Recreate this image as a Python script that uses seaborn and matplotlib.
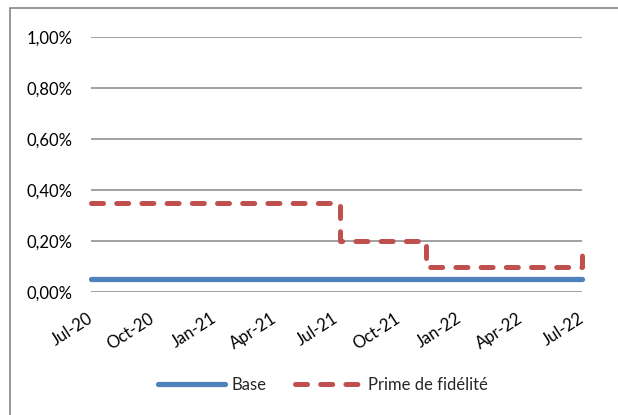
import pandas as pd
import matplotlib
matplotlib.use("Agg")
import matplotlib.pyplot as plt
import matplotlib.dates as mdates
from matplotlib.ticker import FuncFormatter
from matplotlib.patches import Rectangle
import seaborn as sns

# Series data (taux en %)
base_dates = ["2020-07-01", "2022-07-01"]
base_values = [0.05, 0.05]

prime_dates = ["2020-07-01", "2021-07-06", "2021-11-11", "2022-07-01"]
prime_values = [0.35, 0.20, 0.10, 0.15]

tick_dates = ["2020-07-01", "2020-10-01", "2021-01-01", "2021-04-01", "2021-07-01",
              "2021-10-01", "2022-01-01", "2022-04-01", "2022-07-01"]
y_ticks = [0.0, 0.2, 0.4, 0.6, 0.8, 1.0]

df_base = pd.DataFrame({"date": pd.to_datetime(base_dates), "taux": base_values})
df_prime = pd.DataFrame({"date": pd.to_datetime(prime_dates), "taux": prime_values})

sns.set_theme(style="white")
plt.rcParams["font.family"] = ["Lato", "DejaVu Sans"]

W, H = 618, 415
fig = plt.figure(figsize=(W / 100, H / 100), dpi=100)
ax = fig.add_axes([91 / W, 1 - 292 / H, (582 - 91) / W, (292 - 37) / H])

# outer chart frame (right and bottom edges fall outside the image)
fig.patches.append(Rectangle((10 / W, -0.1), 1.2, 1.1 - 8 / H, transform=fig.transFigure,
                             fill=False, edgecolor="#868686", linewidth=1.2))

sns.lineplot(data=df_base, x="date", y="taux", ax=ax, color="#4F81BD", linewidth=3.8,
             solid_capstyle="butt", label="Base", zorder=3, clip_on=False)
sns.lineplot(data=df_prime, x="date", y="taux", ax=ax, color="#C0504D", linewidth=3.6,
             drawstyle="steps-post", linestyle=(0, (2.4, 2.64)), dash_capstyle="round",
             label="Prime de fidélité", zorder=4, clip_on=False)

ax.set_xlim(pd.Timestamp("2020-07-01"), pd.Timestamp("2022-07-01"))
ax.set_ylim(0, 1.0)
ax.set_yticks(y_ticks)
ax.yaxis.set_major_formatter(FuncFormatter(lambda v, p: f"{v:.2f}%".replace(".", ",")))
ax.set_xticks(pd.to_datetime(tick_dates))
ax.xaxis.set_major_formatter(mdates.DateFormatter("%b-%y"))
ax.grid(axis="y", color="#878787", linewidth=1.1)
ax.grid(axis="x", visible=False)
for s in ax.spines.values():
    s.set_visible(False)
ax.tick_params(axis="both", length=0, labelsize=12, colors="black")
ax.tick_params(axis="y", pad=13)
ax.tick_params(axis="x", pad=18)
for lab in ax.get_xticklabels():
    lab.set_rotation(33)
    lab.set_ha("right")
    lab.set_va("center")
    lab.set_rotation_mode("anchor")
ax.set_xlabel("")
ax.set_ylabel("")

handles, labels = ax.get_legend_handles_labels()
ax.get_legend().remove()
for h in handles:
    h.set_solid_capstyle("round")
fig.legend(handles, labels, loc="center", bbox_to_anchor=(323 / W, 1 - 385 / H), ncol=2,
           frameon=False, fontsize=12, handlelength=4.0, columnspacing=1.7, handletextpad=0.4)

fig.savefig("out.png", dpi=100, facecolor="white")
